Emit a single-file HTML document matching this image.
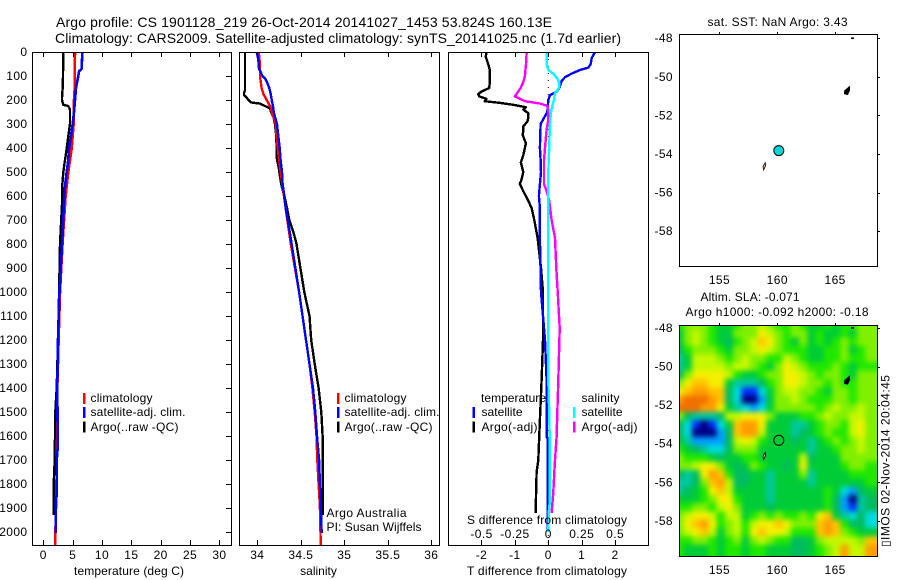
<!DOCTYPE html>
<html lang="en">
<head>
<meta charset="utf-8">
<title>Argo profile CS 1901128_219</title>
<style>
html,body{margin:0;padding:0;background:#fff;}
svg{display:block;}
text{font-family:"Liberation Sans",sans-serif;font-size:12px;fill:#000;}
.t14{font-size:14px;}
.f{fill:none;stroke:#000;stroke-width:1;shape-rendering:crispEdges;}
</style>
</head>
<body>
<svg id="chart" xmlns="http://www.w3.org/2000/svg" width="900" height="580" viewBox="0 0 900 580">
  <defs>
    <clipPath id="heat-clip"><rect x="680" y="325" width="198" height="232"/></clipPath>
    <clipPath id="p1-clip"><rect x="32" y="52" width="200" height="493"/></clipPath>
    <clipPath id="p2-clip"><rect x="239" y="52" width="201" height="493"/></clipPath>
    <clipPath id="p3-clip"><rect x="448" y="52" width="201" height="493"/></clipPath>
    <filter id="heat-soften" x="-5%" y="-5%" width="110%" height="110%" color-interpolation-filters="sRGB"><feGaussianBlur stdDeviation="2.7"/></filter>
  </defs>
  <rect x="0" y="0" width="900" height="580" fill="#fff"/>

  <text class="t14" x="56" y="27" textLength="496" lengthAdjust="spacing">Argo profile: CS 1901128_219 26-Oct-2014 20141027_1453 53.824S 160.13E</text>
  <text class="t14" x="55" y="43" textLength="566" lengthAdjust="spacing">Climatology: CARS2009. Satellite-adjusted climatology: synTS_20141025.nc (1.7d earlier)</text>

  <g id="p1-lines" clip-path="url(#p1-clip)"></g>
  <g id="p2-lines" clip-path="url(#p2-clip)"></g>
  <g id="p3-lines" clip-path="url(#p3-clip)"></g>
  <g id="heat" clip-path="url(#heat-clip)"><g id="heat-cells" filter="url(#heat-soften)"></g></g>
  <g id="islands"></g>
  <g id="ticks"></g>
  <g id="labels"></g>

  <rect class="f" x="32.5" y="52.5" width="199" height="493"/>
  <rect class="f" x="239.5" y="52.5" width="200" height="493"/>
  <rect class="f" x="448.5" y="52.5" width="200" height="493"/>
  <rect class="f" x="679.5" y="34.5" width="198" height="232"/>
  <rect class="f" x="679.5" y="325.5" width="198" height="231"/>

  <text x="74" y="575" textLength="110">temperature (deg C)</text>
  <text x="318.5" y="575" text-anchor="middle">salinity</text>
  <text x="467" y="575" textLength="160">T difference from climatology</text>
  <text x="467" y="524" textLength="160">S difference from climatology</text>

  <g>
    <rect x="83" y="393" width="2.5" height="11" fill="#f00"/>
    <rect x="83" y="407" width="2.5" height="11" fill="#00f"/>
    <rect x="83" y="421.500" width="2.5" height="11" fill="#000"/>
    <text x="90.500" y="402" textLength="62">climatology</text>
    <text x="90.500" y="416" textLength="95">satellite-adj. clim.</text>
    <text x="90.500" y="431" textLength="88">Argo(..raw -QC)</text>
  </g>
  <g>
    <rect x="337" y="393" width="2.5" height="11" fill="#f00"/>
    <rect x="337" y="407" width="2.5" height="11" fill="#00f"/>
    <rect x="337" y="421.500" width="2.5" height="11" fill="#000"/>
    <text x="344.500" y="402" textLength="62">climatology</text>
    <text x="344.500" y="416" textLength="95">satellite-adj. clim.</text>
    <text x="344.500" y="431" textLength="88">Argo(..raw -QC)</text>
  </g>
  <g>
    <text x="481" y="402" textLength="65">temperature</text>
    <text x="581.500" y="402" textLength="38">salinity</text>
    <rect x="472.500" y="407" width="2.5" height="11" fill="#00f"/>
    <rect x="472.500" y="421.500" width="2.5" height="11" fill="#000"/>
    <rect x="573" y="407" width="2.5" height="11" fill="#0ff"/>
    <rect x="573" y="421.500" width="2.5" height="11" fill="#f0f"/>
    <text x="481.500" y="416" textLength="41">satellite</text>
    <text x="481.500" y="431" textLength="56">Argo(-adj)</text>
    <text x="581.500" y="416" textLength="41">satellite</text>
    <text x="581.500" y="431" textLength="56">Argo(-adj)</text>
  </g>
  <text x="326.500" y="517" textLength="80">Argo Australia</text>
  <text x="326.500" y="531" textLength="95">PI: Susan Wijffels</text>

  <text x="707.500" y="26" textLength="140">sat. SST: NaN  Argo: 3.43</text>
  <text x="700.500" y="301" textLength="99">Altim. SLA: -0.071</text>
  <text x="685.500" y="316" textLength="183">Argo h1000: -0.092 h2000: -0.18</text>
  <text transform="translate(889.500 547) rotate(-90)" x="0" y="0" textLength="172">▯IMOS 02-Nov-2014 20:04:45</text>
</svg>

<script>
// ---------- Profile data (depth in metres) ----------
const tempArgoDepth = [0,100,150,180,200,220,225,240,300,350,400,450,500,550,600,800,1000,1200,1400,1500,1600,1700,1800,1930];
const tempArgo = [3.4,3.35,3.3,3.2,3.18,3.4,4.26,4.55,4.55,4.26,4.0,3.7,3.4,3.25,3.25,2.85,2.7,2.5,2.28,2.05,2.0,1.94,1.77,1.77];
const tempClimDepth = [0,100,150,200,300,400,500,600,800,1000,1200,1400,1600,1800,1970,2000,2060];
const tempClim = [5.4,5.35,5.35,5.23,5.17,4.84,4.26,3.8,3.27,2.85,2.6,2.39,2.35,2.25,2.1,2.05,2.05];
const tempSatDepth = [0,70,80,100,150,200,250,300,350,400,450,500,550,600,800,1000,1200,1400,1500,1650,1700,1850,1860,2005];
const tempSat = [6.65,6.54,6.1,5.97,5.57,5.4,5.23,5.0,4.72,4.38,4.26,3.98,3.75,3.58,3.2,2.76,2.5,2.39,2.42,2.45,2.28,2.28,2.1,2.1];

const salArgoDepth = [0,160,170,180,190,200,210,215,225,235,250,270,300,350,400,450,480,520,560,600,650,700,750,775,800,1000,1100,1200,1300,1400,1500,1600,1800,1930];
const salArgo = [33.859,33.859,33.847,33.847,33.878,33.897,33.924,34.031,34.089,34.146,34.157,34.184,34.203,34.218,34.222,34.226,34.246,34.261,34.28,34.311,34.341,34.368,34.414,34.433,34.45,34.54,34.6,34.62,34.66,34.705,34.736,34.75,34.75,34.75];
const salClimDepth = [0,20,50,100,125,150,175,200,230,250,270,300,400,500,600,700,775,800,1000,1200,1300,1400,1500,1600,1700,1800,1894,2060];
const salClim = [34.016,34.023,34.03,34.031,34.04,34.05,34.07,34.108,34.154,34.165,34.184,34.21,34.234,34.268,34.307,34.345,34.376,34.385,34.48,34.56,34.6,34.633,34.66,34.68,34.69,34.705,34.72,34.73];
const salSatDepth = [0,30,70,100,110,125,150,175,200,225,250,275,300,350,400,450,500,550,600,650,700,775,1000,1200,1400,1500,1600,1700,1800,1894,2005];
const salSat = [33.993,34.012,34.02,34.06,34.089,34.11,34.138,34.154,34.165,34.18,34.188,34.207,34.226,34.241,34.257,34.268,34.284,34.291,34.31,34.325,34.349,34.384,34.48,34.56,34.64,34.667,34.686,34.71,34.72,34.73,34.74];

const diffTArgoDepth = [0,20,50,75,100,125,150,165,175,185,195,205,212,220,230,240,255,275,290,310,330,345,380,430,460,500,530,550,580,620,650,700,775,900,1000,1200,1367,1533,1700,1750,1921];
const diffTArgo = [-1.85,-1.87,-1.8,-1.75,-1.75,-1.75,-1.77,-2.0,-2.1,-2.07,-1.85,-1.9,-1.45,-1.05,-0.67,-0.75,-0.6,-0.6,-0.63,-0.75,-0.75,-0.77,-0.67,-0.75,-0.82,-0.75,-0.8,-0.85,-0.75,-0.6,-0.5,-0.42,-0.32,-0.22,-0.16,-0.16,-0.2,-0.25,-0.3,-0.35,-0.38];
const diffTSatDepth = [0,25,50,65,75,90,105,120,150,165,180,200,250,280,300,400,450,500,550,600,650,775,1000,1200,1367,1604,1610,1990];
const diffTSat = [1.4,1.3,1.27,1.2,0.95,0.7,0.5,0.4,0.33,0.25,0.05,0,-0.03,-0.15,-0.23,-0.25,-0.23,-0.22,-0.25,-0.28,-0.25,-0.25,-0.22,-0.1,-0.05,-0.05,-0.02,-0.02];
const diffSArgoDepth = [0,50,100,125,150,175,185,195,205,215,225,240,255,280,300,320,350,400,450,500,550,580,620,700,775,900,1000,1150,1367,1504,1604,1700,1840,1921];
const diffSArgo = [-0.162,-0.167,-0.175,-0.187,-0.207,-0.237,-0.25,-0.212,-0.175,-0.06,-0.007,0,0,0,-0.005,-0.012,-0.017,-0.025,-0.032,-0.032,-0.032,-0.012,0.007,0.025,0.05,0.06,0.07,0.085,0.075,0.067,0.062,0.05,0.037,0.025];
const diffSSatDepth = [0,50,75,90,110,130,150,170,200,225,250,300,400,500,775,1367,1500,1650,1870,1920,2000];
const diffSSat = [-0.012,-0.012,0,0.037,0.067,0.082,0.08,0.05,0.042,0.03,0.02,0.012,0.007,0,0,0,0.007,0.012,0.012,0.003,0];

// ---------- Axis tick values ----------
const depthTicks = [0,100,200,300,400,500,600,700,800,900,1000,1100,1200,1300,1400,1500,1600,1700,1800,1900,2000];
const tempTicks = [0,5,10,15,20,25,30];
const salTicks = [34,34.5,35,35.5,36];
const diffTTicks = [-2,-1,0,1,2];
const diffSTicks = [-0.5,-0.25,0,0.25,0.5];
const lonTicks = [155,160,165];
const latTicks = [-48,-50,-52,-54,-56,-58];

// ---------- Map data ----------
const floatLon = 160.13;
const floatLat = -53.824;
const macquarieLon = [158.95,159.0,158.82,158.76];
const macquarieLat = [-54.45,-54.6,-54.83,-54.65];
const aucklandLon = [166.25,166.25,166.08,165.8,165.82,166.05];
const aucklandLat = [-50.5,-50.7,-50.92,-50.88,-50.72,-50.6];
const bountyLon = [166.4,166.6,166.6,166.4];
const bountyLat = [-47.97,-47.97,-48.03,-48.03];

// Sea level anomaly class for each map cell: north to south, west to east
const slaRows = [
[7,8,8,8,7,6,6,7,8,8,9,8,7,7,8,7,6,6,7,6,7,7,8,8],
[6,8,9,8,7,6,6,8,8,8,10,9,8,7,8,8,6,7,6,6,7,6,8,8],
[6,8,9,8,7,6,5,7,8,9,11,10,8,7,6,8,6,7,6,7,8,7,8,8],
[5,7,8,8,8,7,6,8,8,9,10,9,8,7,7,7,6,6,7,7,8,6,7,8],
[4,6,9,9,9,8,7,8,9,8,8,7,7,9,8,7,6,6,7,7,8,7,7,8],
[4,6,9,9,9,9,8,9,9,8,7,6,8,10,9,8,7,7,7,8,7,6,7,7],
[5,8,10,10,10,10,9,7,6,6,7,8,8,10,10,9,8,7,8,8,7,6,8,8],
[8,10,11,11,10,10,6,4,4,4,5,7,8,10,10,9,8,8,7,8,7,7,8,8],
[10,11,12,12,11,11,5,3,1,1,3,6,8,9,9,8,8,7,6,8,8,7,8,8],
[12,13,13,13,12,11,5,3,0,0,2,6,8,8,9,8,7,7,7,8,8,7,8,8],
[13,13,13,12,12,10,6,4,3,2,3,6,8,8,8,8,8,7,8,9,8,8,9,8],
[8,5,4,4,4,5,9,9,10,10,10,8,6,6,6,7,7,8,9,8,8,9,9,8],
[5,3,1,0,1,3,6,11,12,12,10,6,6,6,4,4,6,7,8,8,7,9,10,8],
[5,3,0,0,0,2,5,11,12,12,9,6,6,6,4,5,6,7,8,7,7,9,10,8],
[6,4,2,2,2,2,5,9,10,9,7,6,6,6,5,6,4,6,7,8,7,8,9,8],
[7,6,5,4,3,3,5,8,8,8,6,6,6,6,6,6,4,6,6,7,8,8,9,8],
[8,7,7,7,6,5,6,6,7,7,6,6,6,6,6,9,5,6,6,6,8,8,8,8],
[8,8,9,10,10,8,6,5,6,8,7,6,6,5,6,10,6,6,6,6,7,8,8,7],
[5,4,5,10,12,11,7,5,5,6,6,4,6,6,6,8,4,6,6,6,6,7,7,7],
[4,4,5,8,11,12,9,5,5,6,6,4,6,6,6,6,4,6,6,6,6,6,6,7],
[4,5,6,7,10,11,9,6,6,6,6,4,6,6,6,6,6,6,7,6,3,2,5,6],
[6,6,6,7,8,10,10,7,6,6,6,4,6,6,6,6,6,6,7,5,2,0,4,5],
[7,7,8,8,7,9,10,8,6,6,6,5,6,6,6,6,6,6,7,5,2,1,4,5],
[8,9,10,10,9,7,9,9,6,7,8,7,8,7,7,8,7,10,11,6,4,3,5,3],
[8,10,11,12,10,7,8,9,7,9,10,10,11,10,8,8,8,11,12,11,7,5,5,3],
[8,9,10,11,9,6,8,9,7,10,11,10,10,9,7,7,7,11,12,11,8,7,6,6],
[7,7,8,8,7,6,7,8,6,8,9,8,7,7,5,5,6,8,9,9,9,9,8,11],
[7,6,6,6,7,6,7,7,6,7,7,6,6,6,5,5,6,7,8,9,12,9,9,12]
];

// ---------- Axis functions ----------
const tempX = v => 43.3 + 5.87 * v;
const salX = v => 257.3 + 87 * (v - 34);
const diffX = v => 548.3 + 33.4 * v;
const diffSX = v => diffX(v * 4);
const depthY = d => 52 + 0.24 * d;
const lonX = v => 777.3 + 11.57 * (v - 160);
const sstLatY = v => 154 - 19.3 * (v + 54);
const slaLatY = v => 444 - 19.3 * (v + 54) - 0.3;

const NS = 'http://www.w3.org/2000/svg';
const slaColours = ['#000080','#0030ff','#00a0ff','#00dcdc','#00c8a0','#00bc60','#00cc38','#20e800','#80f000','#c4f800','#f4f000','#ffc400','#ff9c00','#f07000'];

function mk(tag, parentId) {
  const node = document.createElementNS(NS, tag);
  document.getElementById(parentId).appendChild(node);
  return node;
}
function pointsOf(xs, ys) {
  return xs.map((v, i) => v.toFixed(1) + ',' + ys[i].toFixed(1)).join(' ');
}
function setLine(el, points, colour, width) {
  el.setAttribute('points', points);
  el.setAttribute('fill', 'none');
  el.setAttribute('stroke', colour);
  el.setAttribute('stroke-width', width);
  el.setAttribute('stroke-linejoin', 'round');
  el.setAttribute('shape-rendering', 'crispEdges');
}
function setTick(el, x1, y1, x2, y2) {
  el.setAttribute('x1', x1);
  el.setAttribute('y1', y1);
  el.setAttribute('x2', x2);
  el.setAttribute('y2', y2);
  el.setAttribute('stroke', '#000');
  el.setAttribute('stroke-width', '1');
  el.setAttribute('shape-rendering', 'crispEdges');
}
function setLabel(el, x, y, anchor, str) {
  el.setAttribute('x', x);
  el.setAttribute('y', y);
  el.setAttribute('text-anchor', anchor);
  el.setAttribute('letter-spacing', '0.4');
  el.textContent = str;
}

// ---------- Temperature panel ----------
let el;
el = mk('polyline', 'p1-lines');


setLine(el, pointsOf(tempArgo.map(tempX), tempArgoDepth.map(depthY)), '#000', 2.4);
el = mk('polyline', 'p1-lines');


setLine(el, pointsOf(tempClim.map(tempX), tempClimDepth.map(depthY)), '#f00', 2.6);
el = mk('polyline', 'p1-lines');


setLine(el, pointsOf(tempSat.map(tempX), tempSatDepth.map(depthY)), '#00f', 2.6);

// ---------- Salinity panel ----------
el = mk('polyline', 'p2-lines');


setLine(el, pointsOf(salArgo.map(salX), salArgoDepth.map(depthY)), '#000', 2.4);
el = mk('polyline', 'p2-lines');


setLine(el, pointsOf(salClim.map(salX), salClimDepth.map(depthY)), '#f00', 2.4);
el = mk('polyline', 'p2-lines');


setLine(el, pointsOf(salSat.map(salX), salSatDepth.map(depthY)), '#00f', 2.4);

// ---------- Difference panel ----------
el = mk('line', 'p3-lines');


el.setAttribute('x1', diffX(0));
el.setAttribute('x2', diffX(0));
el.setAttribute('y1', depthY(0));
el.setAttribute('y2', depthY(2060));
el.setAttribute('stroke', '#000');
el.setAttribute('stroke-width', '1');
el.setAttribute('stroke-dasharray', '1 6');
el = mk('polyline', 'p3-lines');


setLine(el, pointsOf(diffTArgo.map(diffX), diffTArgoDepth.map(depthY)), '#000', 2.4);
el = mk('polyline', 'p3-lines');


setLine(el, pointsOf(diffTSat.map(diffX), diffTSatDepth.map(depthY)), '#00f', 2.4);
el = mk('polyline', 'p3-lines');


setLine(el, pointsOf(diffSArgo.map(diffSX), diffSArgoDepth.map(depthY)), '#f0f', 2.4);
el = mk('polyline', 'p3-lines');


setLine(el, pointsOf(diffSSat.map(diffSX), diffSSatDepth.map(depthY)), '#0ff', 2.4);

// ---------- SLA heatmap: each value is centred on its grid node ----------
const cellW = 198 / slaRows[0].length;
const cellH = 232 / slaRows.length;
slaRows.forEach((row, r) => {
  row.forEach((value, c) => {
    const lastCol = c === row.length - 1;
    const lastRow = r === slaRows.length - 1;
    const cell = mk('rect', 'heat-cells');
    
    
    cell.setAttribute('x', 679.5 + (c - 0.5) * cellW);
    cell.setAttribute('y', 325 + (r - 0.5) * cellH);
    cell.setAttribute('width', cellW * (lastCol ? 3 : 1) + 0.5);
    cell.setAttribute('height', cellH * (lastRow ? 3 : 1) + 0.5);
    cell.setAttribute('fill', slaColours[Math.max(0, Math.min(slaColours.length - 1, Math.round(value)))]);
  });
});

// ---------- Islands and float markers on both maps ----------
[sstLatY, slaLatY].forEach(latY => {
  el = mk('polygon', 'islands');
  
  
  el.setAttribute('points', pointsOf(macquarieLon.map(lonX), macquarieLat.map(latY)));
  el.setAttribute('fill', '#f0c090');
  el.setAttribute('stroke', '#000');
  el.setAttribute('stroke-width', '0.8');
  el = mk('polygon', 'islands');
  
  
  el.setAttribute('points', pointsOf(aucklandLon.map(lonX), aucklandLat.map(latY)));
  el.setAttribute('fill', '#000');
  el.setAttribute('stroke', '#000');
  el.setAttribute('stroke-width', '0.8');
  el = mk('polygon', 'islands');
  
  
  el.setAttribute('points', pointsOf(bountyLon.map(lonX), bountyLat.map(latY)));
  el.setAttribute('fill', '#000');
  el.setAttribute('stroke', '#000');
  el.setAttribute('stroke-width', '0.5');
});
el = mk('circle', 'islands');


el.setAttribute('cx', lonX(floatLon));
el.setAttribute('cy', sstLatY(floatLat));
el.setAttribute('r', '5');
el.setAttribute('fill', '#00d8d8');
el.setAttribute('stroke', '#000');
el.setAttribute('stroke-width', '1');
el = mk('circle', 'islands');


el.setAttribute('cx', lonX(floatLon));
el.setAttribute('cy', slaLatY(floatLat));
el.setAttribute('r', '5');
el.setAttribute('fill', 'none');
el.setAttribute('stroke', '#000');
el.setAttribute('stroke-width', '1');

// ---------- Ticks and tick labels ----------
depthTicks.forEach(d => {
  const y = Math.round(depthY(d)) + 0.5;
  const t = mk('line', 'ticks');
  
  
  setTick(t, 226, y, 231, y);
  const l = mk('text', 'labels');
  
  
  setLabel(l, 27.5, depthY(d) + 4, 'end', String(d));
});
tempTicks.forEach(v => {
  const x = Math.round(tempX(v)) + 0.5;
  const top = mk('line', 'ticks');
  
  
  setTick(top, x, 52, x, 57);
  const bottom = mk('line', 'ticks');
  
  
  setTick(bottom, x, 540, x, 545);
  const l = mk('text', 'labels');
  
  
  setLabel(l, tempX(v), 559, 'middle', String(v));
});
salTicks.forEach(v => {
  const x = Math.round(salX(v)) + 0.5;
  const top = mk('line', 'ticks');
  
  
  setTick(top, x, 52, x, 57);
  const bottom = mk('line', 'ticks');
  
  
  setTick(bottom, x, 540, x, 545);
  const l = mk('text', 'labels');
  
  
  setLabel(l, salX(v), 559, 'middle', String(v));
});
diffTTicks.forEach(v => {
  const x = Math.round(diffX(v)) + 0.5;
  const top = mk('line', 'ticks');
  
  
  setTick(top, x, 52, x, 57);
  const bottom = mk('line', 'ticks');
  
  
  setTick(bottom, x, 540, x, 545);
  const l = mk('text', 'labels');
  
  
  setLabel(l, diffX(v), 559, 'middle', String(v));
});
diffSTicks.forEach(v => {
  const l = mk('text', 'labels');
  
  
  setLabel(l, diffSX(v), 538, 'middle', String(v));
});
lonTicks.forEach(v => {
  const x = Math.round(lonX(v)) + 0.5;
  const a = mk('line', 'ticks');
  
  
  setTick(a, x, 32, x, 34);
  const b = mk('line', 'ticks');
  
  
  setTick(b, x, 323, x, 325);
  const la = mk('text', 'labels');
  
  
  setLabel(la, lonX(v), 284, 'middle', String(v));
  const lb = mk('text', 'labels');
  
  
  setLabel(lb, lonX(v), 574, 'middle', String(v));
});
latTicks.forEach(v => {
  const ya = Math.round(sstLatY(v)) + 0.5;
  const yb = Math.round(slaLatY(v)) + 0.5;
  const a = mk('line', 'ticks');
  
  
  setTick(a, 878, ya, 880, ya);
  const b = mk('line', 'ticks');
  
  
  setTick(b, 878, yb, 880, yb);
  const la = mk('text', 'labels');
  
  
  setLabel(la, 673, sstLatY(v) + 4, 'end', String(v));
  const lb = mk('text', 'labels');
  
  
  setLabel(lb, 673, slaLatY(v) + 4, 'end', String(v));
});
</script>
</body>
</html>
